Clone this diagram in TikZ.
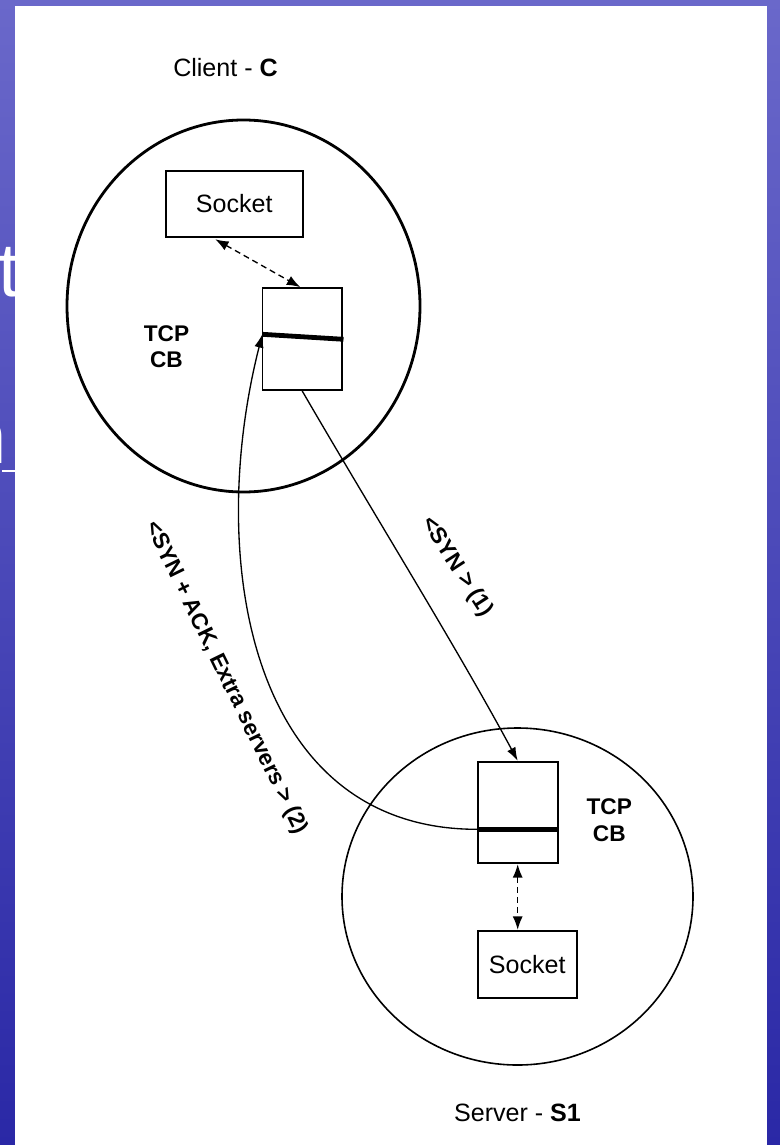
\documentclass[tikz,border=0pt]{standalone}
\usepackage{fontspec}
\setmainfont{Liberation Sans}
\usetikzlibrary{arrows.meta,calc,shapes.geometric}
\definecolor{slidetop}{RGB}{106,104,202}
\definecolor{slidebot}{RGB}{42,40,166}
\begin{document}
\begin{tikzpicture}[x=0.75pt,y=-0.75pt,
  boxnode/.style={draw,line width=1.4pt,inner sep=0pt},
  lbl/.style={font=\fontsize{18.8}{22}\selectfont,inner sep=0pt},
  cblbl/.style={font=\fontsize{17}{20}\selectfont\bfseries,align=center,inner sep=0pt},
  msglbl/.style={font=\fontsize{17}{20}\selectfont\bfseries,inner sep=0pt},
  bar/.style={line width=3.6pt},
  msg/.style={line width=1pt,-{Latex[length=10pt,width=7pt]}},
  dasharrow/.style={line width=1pt,dash pattern=on 4.5pt off 3pt,{Latex[length=10pt,width=7.5pt]}-{Latex[length=10pt,width=7.5pt]}},
  slidetext/.style={text=white,font=\fontsize{57}{60}\selectfont,inner sep=0pt}
]
\useasboundingbox (0,0) rectangle (780,1145);
% slide background
\shade[top color=slidetop,bottom color=slidebot] (0,0) rectangle (780,1145);
\node[slidetext,anchor=base west] (tfrag) at (-2,296) {t};
\node[slidetext,anchor=base east] (nfrag) at (7.5,463) {n};
\coordinate (ulA) at (2,471);
\coordinate (ulB) at (16,471);
\draw[white,line width=1.6pt] (ulA) -- (ulB);
% white panel
\fill[white] (15,6.5) rectangle (767,1145);

% circles
\node[draw,ellipse,line width=2.1pt,minimum width=353*0.75pt,minimum height=372*0.75pt,inner sep=0pt] (ccirc) at (243.5,306) {};
\node[draw,ellipse,line width=1.2pt,minimum width=351*0.75pt,minimum height=337*0.75pt,inner sep=0pt] (scirc) at (517.5,896.5) {};

% titles
\node[lbl] (ctitle) at (225.5,68) {Client - \textbf{C}};
\node[lbl] (stitle) at (517.5,1113) {Server - \textbf{S1}};

% client boxes
\node[boxnode,minimum width=102.75pt,minimum height=50pt,lbl] (csock) at (234.2,204) {Socket};
\node[boxnode,minimum width=59.5pt,minimum height=76.5pt] (ctcp) at (302.2,339) {};
\coordinate (cbarL) at (262.3,334.3);
\coordinate (cbarR) at (343.5,339.3);
\draw[bar] (cbarL) -- (cbarR);
\node[cblbl] (ccb) at (166.5,346.7) {TCP\\CB};

% server boxes
\node[boxnode,minimum width=60pt,minimum height=76.2pt] (stcp) at (517.7,812.5) {};
\node[boxnode,minimum width=74.25pt,minimum height=50.25pt,lbl] (ssock) at (527.2,964.2) {Socket};
\coordinate (sbarL) at (477.7,829.3);
\coordinate (sbarR) at (559,829.3);
\draw[bar] (sbarL) -- (sbarR);
\node[cblbl] (scb) at (609.3,820) {TCP\\CB};

% socket <-> TCP CB
\draw[dasharrow] ($(csock.south)+(-19,1)$) -- ($(ctcp.north)+(-2,0)$);
\draw[dasharrow] (stcp.south) -- (stcp.south |- ssock.north);

% messages
\draw[msg] (ctcp.south) .. controls (373,513) and (456,646) .. (stcp.north);
\draw[msg] (sbarL) .. controls (250,830) and (205,560) .. (cbarL);

\node[msglbl,rotate=-57] (m1) at (457,567) {<SYN > (1)};
\node[msglbl,rotate=-64] (m2) at (226,678) {<SYN + ACK, Extra servers > (2)};
\end{tikzpicture}
\end{document}
